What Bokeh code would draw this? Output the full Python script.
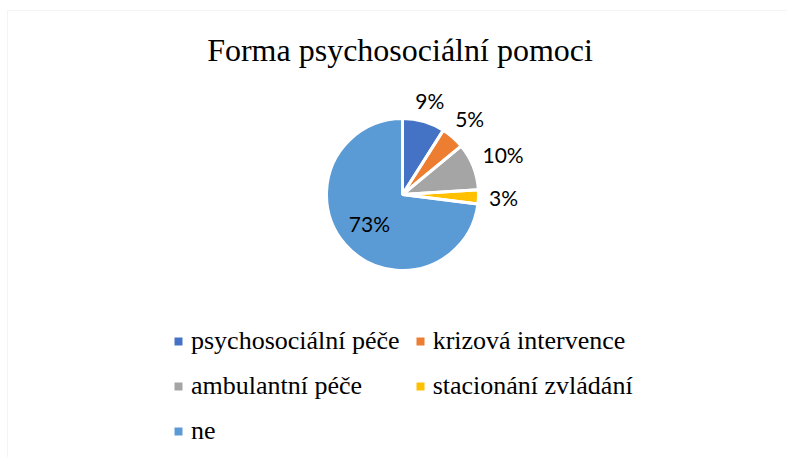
import numpy as np
from bokeh.plotting import figure
from bokeh.models import ColumnDataSource, Range1d, Label, BoxAnnotation, Legend, LegendItem
from bokeh.core.properties import value
from bokeh.embed import file_html
from bokeh.resources import INLINE

# ---- data ----
title_text = "Forma psychosociální pomoci"
categories = ["psychosociální péče", "krizová intervence", "ambulantní péče",
              "stacionání zvládání", "ne"]
percent = [9, 5, 10, 3, 73]
colors = ["#4472C4", "#ED7D31", "#A5A5A5", "#FFC000", "#5B9BD5"]

# ---- layout (pixel-like data space) ----
W, H = 787, 457
cx, cy, R = 402, 263, 76
label_px = 21

share = np.array(percent, float) / sum(percent)
cum_end = np.cumsum(share)
cum_start = cum_end - share
start = np.pi / 2 - 2 * np.pi * cum_start
end = np.pi / 2 - 2 * np.pi * cum_end
mid = (start + end) / 2

labels = [f"{v}%" for v in percent]
lx, ly = [], []
for s, m, t in zip(share, mid, labels):
    ux, uy = np.cos(m), np.sin(m)
    if s >= 0.5:
        d = 0.58 * R
    else:
        w = label_px * (0.58 * (len(t) - 1) + 0.78)
        h = 15
        d = R + 10.5 + abs(ux) * w / 2 + abs(uy) * h / 2
    lx.append(cx + d * ux)
    ly.append(cy + d * uy)

src = ColumnDataSource(dict(cat=categories, start=start, end=end, color=colors,
                            x=[cx] * len(percent), y=[cy] * len(percent)))
lsrc = ColumnDataSource(dict(x=lx, y=ly, text=labels))

p = figure(width=W, height=H, output_backend="svg", toolbar_location=None,
           x_range=Range1d(0, W), y_range=Range1d(0, H),
           x_axis_type=None, y_axis_type=None, min_border=0,
           outline_line_color=None, background_fill_color="white",
           border_fill_color="white")
p.grid.visible = False

r = p.wedge(x="x", y="y", radius=R, start_angle="start", end_angle="end",
            direction="clock", fill_color="color", line_color=None, source=src)
p.wedge(x="x", y="y", radius=R, start_angle="start", end_angle="end",
        direction="clock", fill_alpha=0, line_color="white", line_width=3, source=src)

p.text(x="x", y="y", text="text", source=lsrc, text_font=value("Lato"),
       text_font_size="21px", text_align="center", text_baseline="middle",
       text_color="#000000")

p.add_layout(Label(x=399.5, y=408, text=title_text, text_align="center",
                   text_baseline="alphabetic", text_font="Liberation Serif",
                   text_font_size="32px", text_color="#000000"))

p.add_layout(BoxAnnotation(left=7, right=5000, bottom=-5000, top=447,
                           fill_alpha=0, line_color="#d9d9d9", line_width=1))

items = [LegendItem(label=c, renderers=[r], index=i) for i, c in enumerate(categories)]
legend = Legend(items=items, location=(173, 11), orientation="horizontal", ncols=2,
                label_text_font="Liberation Serif", label_text_font_size="26px",
                label_text_color="#000000", glyph_width=10, glyph_height=10,
                label_standoff=8, spacing=15, padding=0, margin=0,
                border_line_color=None, background_fill_alpha=0)
p.add_layout(legend)

open("out.html", "w").write(file_html(p, INLINE))
